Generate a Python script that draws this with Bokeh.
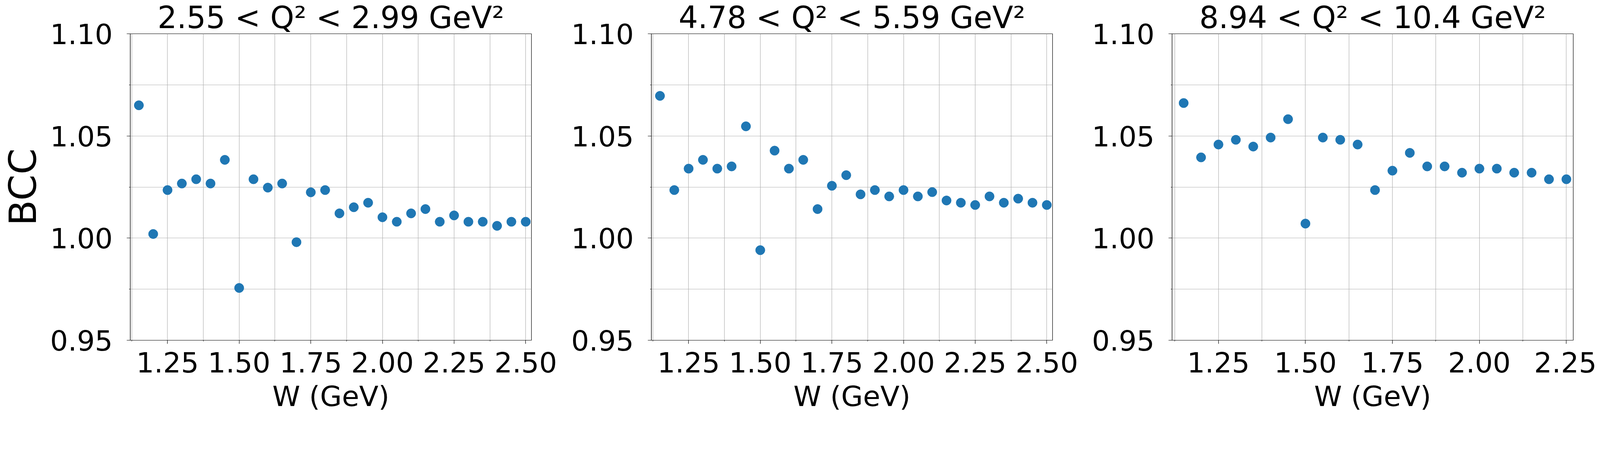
from bokeh.plotting import figure
from bokeh.models import FixedTicker, Range1d, PrintfTickFormatter
from bokeh.layouts import row
from bokeh.embed import file_html
from bokeh.resources import INLINE

# ---- data ----
titles = ["2.55 < Q\u00b2 < 2.99 GeV\u00b2",
          "4.78 < Q\u00b2 < 5.59 GeV\u00b2",
          "8.94 < Q\u00b2 < 10.4 GeV\u00b2"]

W_1 = [1.15, 1.20, 1.25, 1.30, 1.35, 1.40, 1.45, 1.50, 1.55, 1.60, 1.65, 1.70, 1.75, 1.80,
       1.85, 1.90, 1.95, 2.00, 2.05, 2.10, 2.15, 2.20, 2.25, 2.30, 2.35, 2.40, 2.45, 2.50]
BCC_1 = [1.065, 1.002, 1.0235, 1.0267, 1.0288, 1.0267, 1.0383, 0.9756, 1.0288, 1.0247, 1.0267,
         0.998, 1.0224, 1.0235, 1.0121, 1.0151, 1.0173, 1.0102, 1.008, 1.0121, 1.0142, 1.008,
         1.0111, 1.008, 1.008, 1.006, 1.008, 1.008]

W_2 = [1.15, 1.20, 1.25, 1.30, 1.35, 1.40, 1.45, 1.50, 1.55, 1.60, 1.65, 1.70, 1.75, 1.80,
       1.85, 1.90, 1.95, 2.00, 2.05, 2.10, 2.15, 2.20, 2.25, 2.30, 2.35, 2.40, 2.45, 2.50]
BCC_2 = [1.0696, 1.0235, 1.034, 1.0383, 1.034, 1.0351, 1.0547, 0.9941, 1.0428, 1.034, 1.0383,
         1.0142, 1.0256, 1.0308, 1.0214, 1.0235, 1.0204, 1.0235, 1.0204, 1.0225, 1.0184, 1.0173,
         1.0162, 1.0204, 1.0173, 1.0193, 1.0173, 1.0162]

W_3 = [1.15, 1.20, 1.25, 1.30, 1.35, 1.40, 1.45, 1.50, 1.55, 1.60, 1.65, 1.70, 1.75, 1.80,
       1.85, 1.90, 1.95, 2.00, 2.05, 2.10, 2.15, 2.20, 2.25]
BCC_3 = [1.0661, 1.0395, 1.0458, 1.0481, 1.0448, 1.0492, 1.0582, 1.0071, 1.0492, 1.0481, 1.0458,
         1.0235, 1.033, 1.0417, 1.0351, 1.0351, 1.032, 1.034, 1.034, 1.032, 1.032, 1.0288, 1.0288]

x_major_1 = [1.25, 1.50, 1.75, 2.00, 2.25, 2.50]
x_minor_1 = [1.125, 1.375, 1.625, 1.875, 2.125, 2.375]
x_major_3 = [1.25, 1.50, 1.75, 2.00, 2.25]
x_minor_3 = [1.125, 1.375, 1.625, 1.875, 2.125]
y_major = [0.95, 1.00, 1.05, 1.10]
y_minor = [0.975, 1.025, 1.075]

FONT = "DejaVu Sans"
BLUE = "#1f77b4"
GRID = "#b0b0b0"


def make(title, W, B, xr, xmaj, xmin, bl, br, ylabel=None):
    p = figure(frame_width=1027, frame_height=785,
               x_range=Range1d(*xr), y_range=Range1d(0.95, 1.10),
               output_backend="svg", toolbar_location=None, title=title,
               min_border_left=bl, min_border_right=br,
               min_border_top=0, min_border_bottom=0,
               background_fill_color="white", border_fill_color="white")
    p.title.text_font = FONT
    p.title.text_font_size = "78px"
    p.title.text_font_style = "normal"
    p.title.text_color = "black"
    p.title.align = "center"
    p.title.standoff = -6
    p.outline_line_color = "black"
    p.outline_line_width = 1.2

    p.xaxis.ticker = FixedTicker(ticks=xmaj, minor_ticks=xmin)
    p.yaxis.ticker = FixedTicker(ticks=y_major, minor_ticks=y_minor)
    p.xaxis.formatter = PrintfTickFormatter(format="%.2f")
    p.yaxis.formatter = PrintfTickFormatter(format="%.2f")
    for ax in (p.xaxis[0], p.yaxis[0]):
        ax.axis_line_color = "black"
        ax.axis_line_width = 1.2
        ax.major_tick_line_color = "black"
        ax.major_tick_line_width = 1.2
        ax.minor_tick_line_color = "black"
        ax.minor_tick_line_width = 1.0
        ax.major_tick_in = 0
        ax.major_tick_out = 9
        ax.minor_tick_in = 0
        ax.minor_tick_out = 3
        ax.major_label_text_font = FONT
        ax.major_label_text_font_size = "72px"
        ax.major_label_text_color = "black"
        ax.axis_label_text_font = FONT
        ax.axis_label_text_font_style = "normal"
        ax.axis_label_text_color = "black"
    p.xaxis.major_label_standoff = 20
    p.yaxis.major_label_standoff = 36
    p.xaxis.axis_label = "W (GeV)"
    p.xaxis.axis_label_text_font_size = "72px"
    p.xaxis.axis_label_standoff = 16
    if ylabel:
        p.yaxis.axis_label = ylabel
        p.yaxis.axis_label_text_font_size = "96px"
        p.yaxis.axis_label_standoff = 10

    for g in (p.xgrid[0], p.ygrid[0]):
        g.grid_line_color = GRID
        g.grid_line_width = 1.2
        g.minor_grid_line_color = GRID
        g.minor_grid_line_width = 1.2

    p.scatter(W, B, size=24, fill_color=BLUE, line_color=BLUE)
    return p


p1 = make(titles[0], W_1, BCC_1, (1.12, 2.52), x_major_1, x_minor_1, 328, 97, "BCC")
p2 = make(titles[1], W_2, BCC_2, (1.12, 2.52), x_major_1, x_minor_1, 210, 96)
p3 = make(titles[2], W_3, BCC_3, (1.1167, 2.2697), x_major_3, x_minor_3, 210, 60)

layout = row(p1, p2, p3)
open("out.html", "w").write(file_html(layout, INLINE))
